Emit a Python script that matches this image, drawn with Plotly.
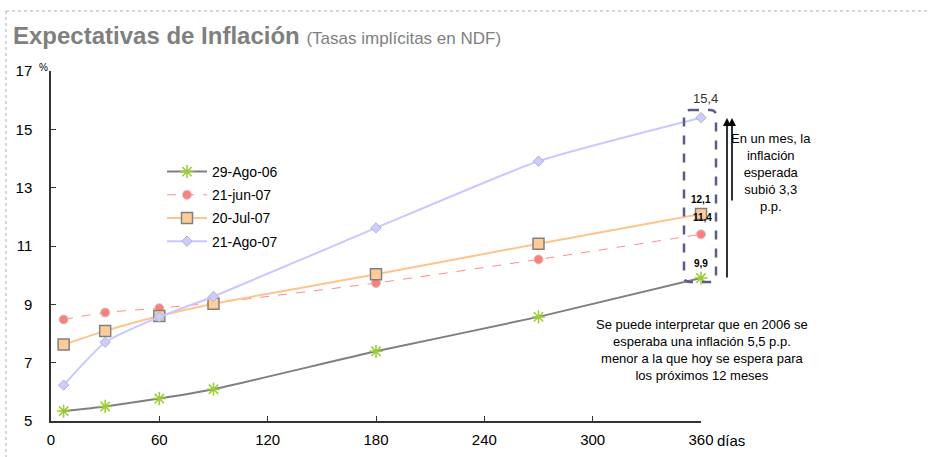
import plotly.graph_objects as go

# ---- data ----
dias = [7, 30, 60, 90, 180, 270, 360]
serie_ago06 = [5.34, 5.50, 5.77, 6.09, 7.39, 8.57, 9.9]
serie_jun07 = [8.48, 8.72, 8.87, 9.05, 9.73, 10.54, 11.4]
serie_jul07 = [7.62, 8.09, 8.60, 9.02, 10.03, 11.08, 12.1]
serie_ago07 = [6.23, 7.70, 8.57, 9.27, 11.62, 13.91, 15.4]
nombres = ["29-Ago-06", "21-jun-07", "20-Jul-07", "21-Ago-07"]
x_ticks = [0, 60, 120, 180, 240, 300, 360]
y_ticks = [5, 7, 9, 11, 13, 15, 17]

W, H = 930, 457
L, R, T, B = 51, 229, 71, 36
PW, PH = W - L - R, H - T - B


def px(x):
    return (x - L) / PW


def py(y):
    return (H - B - y) / PH


FONT = "Liberation Sans, Arial, sans-serif"

fig = go.Figure()
fig.add_trace(go.Scatter(
    x=dias, y=serie_ago06, name=nombres[0], mode="lines+markers", cliponaxis=False,
    line=dict(color="#7F7F7F", width=2, shape="spline", smoothing=0.5),
    marker=dict(symbol="asterisk-open", size=11, color="#9ACD32",
                line=dict(color="#9ACD32", width=1.5)),
    legendgroup="a"))
fig.add_trace(go.Scatter(
    x=dias, y=serie_jun07, name=nombres[1], mode="lines+markers", cliponaxis=False,
    line=dict(color="#FF8C8C", width=1, dash="dash", shape="spline", smoothing=0.5),
    marker=dict(symbol="circle", size=9, color="#FF7F7F",
                line=dict(color="#C8C8C8", width=1)),
    legendgroup="b"))
fig.add_trace(go.Scatter(
    x=dias, y=serie_jul07, name=nombres[2], mode="lines+markers", cliponaxis=False,
    line=dict(color="#FFC48C", width=2, shape="spline", smoothing=0.5),
    marker=dict(symbol="square", size=11, color="#FFCC99",
                line=dict(color="#808080", width=1.5)),
    legendgroup="c"))
fig.add_trace(go.Scatter(
    x=dias, y=serie_ago07, name=nombres[3], mode="lines+markers", cliponaxis=False,
    line=dict(color="#C8C8FF", width=2, shape="spline", smoothing=0.5),
    marker=dict(symbol="diamond", size=8, color="#CCCCFF",
                line=dict(color="#B4B4C8", width=1)),
    legendgroup="d"))

ann = []


def txt(x, y, text, size, color="#000", xanchor="center", align="center"):
    ann.append(dict(xref="paper", yref="paper", x=px(x), y=py(y), xanchor=xanchor, yanchor="middle",
                    showarrow=False, text=text, align=align,
                    font=dict(family=FONT, size=size, color=color)))


# title
txt(11, 35, "<b>Expectativas de Inflación</b> <span style='font-size:17px'>(Tasas implícitas en NDF)</span>",
    24, "#7F7F7F", xanchor="left")
txt(37, 68, "%", 10, xanchor="left")
txt(715, 440, "días", 15, xanchor="left")
# value labels
txt(705, 99, "15,4", 13, "#333")
txt(701, 199, "<b>12,1</b>", 10)
txt(702, 217, "<b>11,4</b>", 10)
txt(701, 263, "<b>9,9</b>", 10)
# arrows
for xa, tail in [(727, 279), (732, 202)]:
    ann.append(dict(xref="paper", yref="paper", x=px(xa), y=py(118), ax=0, ay=tail - 118,
                    showarrow=True, arrowhead=2, arrowsize=1, arrowwidth=1.6, arrowcolor="#000",
                    text=""))
txt(771, 172, "En un mes, la<br>inflación<br>esperada<br>subió 3,3<br>p.p.", 13)
txt(702, 350, "Se puede interpretar que en 2006 se<br>esperaba una inflación 5,5 p.p.<br>"
              "menor a la que hoy se espera para<br>los próximos 12 meses", 13)

# rounded dashed box
x0, x1, y0, y1, r = 684, 716, 110, 282, 6
path = (f"M {px(x0 + r)} {py(y0)} L {px(x1 - r)} {py(y0)} Q {px(x1)} {py(y0)} {px(x1)} {py(y0 + r)} "
        f"L {px(x1)} {py(y1 - r)} Q {px(x1)} {py(y1)} {px(x1 - r)} {py(y1)} "
        f"L {px(x0 + r)} {py(y1)} Q {px(x0)} {py(y1)} {px(x0)} {py(y1 - r)} "
        f"L {px(x0)} {py(y0 + r)} Q {px(x0)} {py(y0)} {px(x0 + r)} {py(y0)} Z")
shapes = [dict(type="path", xref="paper", yref="paper", path=path,
               line=dict(color="#5B5B8F", width=2.5, dash="dash"))]
# dotted frame
shapes.append(dict(type="line", xref="paper", yref="paper", x0=px(6), x1=px(930), y0=py(11), y1=py(11),
                   line=dict(color="#B0B0B0", width=1, dash="dot")))
shapes.append(dict(type="line", xref="paper", yref="paper", x0=px(6), x1=px(6), y0=py(11), y1=py(457),
                   line=dict(color="#B0B0B0", width=1, dash="dot")))

fig.update_layout(
    width=W, height=H, margin=dict(l=L, r=R, t=T, b=B, autoexpand=False),
    paper_bgcolor="white", plot_bgcolor="white",
    font=dict(family=FONT, size=15, color="#000"),
    showlegend=True,
    legend=dict(x=px(162), y=py(156), xanchor="left", yanchor="top",
                bgcolor="rgba(0,0,0,0)", font=dict(family=FONT, size=14),
                tracegroupgap=2, itemwidth=40),
    annotations=ann, shapes=shapes,
    xaxis=dict(range=[0, 360], tickvals=x_ticks, ticks="inside", ticklen=5,
               showgrid=False, zeroline=False, showline=True, linecolor="#333", linewidth=1.5,
               tickcolor="#333", ticklabelstandoff=4, fixedrange=True, automargin=False),
    yaxis=dict(range=[5, 17], tickvals=y_ticks, ticks="inside", ticklen=5,
               showgrid=False, zeroline=False, showline=True, linecolor="#333", linewidth=1.5,
               tickcolor="#333", ticklabelstandoff=14, fixedrange=True, automargin=False),
)

fig.write_html("out.html", config={"displayModeBar": False},
               post_script="document.body.style.margin='0';document.body.style.overflow='hidden';")
